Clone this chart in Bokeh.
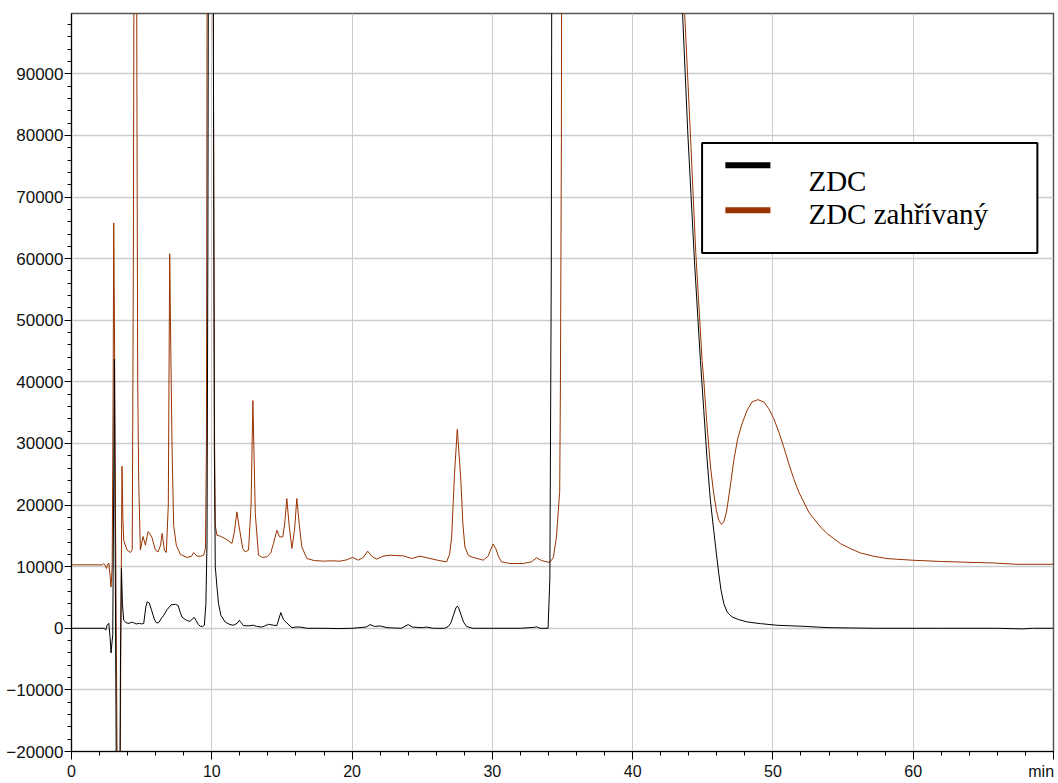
from bokeh.plotting import figure
from bokeh.models import Range1d, SingleIntervalTicker, BasicTickFormatter
from bokeh.core.properties import value
from bokeh.embed import file_html
from bokeh.resources import INLINE

# --- chromatogram traces (retention time in min, detector response) ---
zdc_t = [0.0, 2.35, 2.44, 2.54, 2.66, 2.75, 2.82, 2.94, 3.0, 3.06, 3.12, 3.18, 3.24, 3.42,
         3.49, 3.56, 3.63, 3.72, 3.9, 4.1, 4.3, 4.44, 4.6, 4.85, 5.0, 5.15, 5.3, 5.4, 5.55,
         5.7, 5.9, 6.05, 6.21, 6.4, 6.57, 6.8, 7.1, 7.4, 7.6, 7.75, 7.88, 8.2, 8.45, 8.6,
         8.75, 8.9, 9.05, 9.18, 9.35, 9.47, 9.58, 9.66, 9.72, 9.8, 10.05, 10.12, 10.18,
         10.25, 10.37, 10.48, 10.65, 10.96, 11.3, 11.55, 11.8, 11.96, 12.1, 12.26, 12.6,
         12.97, 13.2, 13.57, 13.8, 14.04, 14.4, 14.64, 14.78, 14.92, 15.11, 15.35, 15.71,
         16.0, 16.3, 16.8, 18.0, 19.0, 20.0, 21.0, 21.28, 21.6, 22.0, 22.5, 23.5, 24.0,
         24.3, 25.0, 25.3, 25.8, 26.6, 26.86, 27.05, 27.25, 27.4, 27.5, 27.6, 27.75, 27.95,
         28.16, 28.6, 30.0, 32.0, 33.0, 33.15, 33.4, 33.97, 34.1, 34.2, 34.3, 39.0, 43.2,
         43.56, 43.94, 44.41, 44.83, 45.07, 45.31, 45.54, 45.78, 45.97, 46.14, 46.3, 46.5,
         46.73, 47.09, 47.56, 48.16, 49.11, 50.3, 52.2, 53.86, 57.19, 62.0, 66.0, 67.8,
         68.5, 70.0]
zdc_y = [0, 0, -300, 500, 800, -1500, -4000, -1000, 20000, 43700, 10000, -18000, -40000,
         -40000, -5000, 9700, 4000, 1300, 900, 800, 1000, 900, 700, 800, 700, 800, 3500,
         4300, 4100, 3000, 1500, 900, 900, 1600, 2100, 3000, 3800, 3900, 3700, 2600, 1800,
         1300, 1100, 1500, 1750, 1200, 600, 330, 300, 500, 4000, 14000, 60000, 160000,
         160000, 90000, 30000, 10000, 6700, 4000, 2100, 1000, 600, 500, 800, 1300, 900,
         440, 400, 500, 300, 200, 400, 650, 500, 440, 1500, 2550, 1400, 860, 100, 200, 200,
         0, 0, -50, 0, 200, 600, 300, 380, 100, 0, 600, 200, 100, 200, 0, 0, 300, 900, 2300,
         3300, 3600, 3300, 2300, 1000, 300, 0, 0, 0, 150, 250, 0, 0, 8000, 58000, 200000,
         400000, 170000, 99700, 80000, 59500, 43500, 35400, 27300, 20800, 15900, 12100,
         8900, 6200, 4000, 2650, 1840, 1410, 1030, 760, 490, 320, 110, 0, 0, 0, -100, 0, 0]

heated_t = [0.0, 2.2, 2.3, 2.4, 2.49, 2.58, 2.66, 2.75, 2.82, 2.9, 2.97, 3.01, 3.06, 3.13,
            3.22, 3.3, 3.44, 3.52, 3.6, 3.66, 3.72, 3.96, 4.2, 4.33, 4.41, 4.5, 4.6, 4.66,
            4.72, 4.79, 4.91, 5.1, 5.27, 5.46, 5.6, 5.74, 5.98, 6.17, 6.35, 6.46, 6.62,
            6.76, 6.9, 7.0, 7.08, 7.17, 7.28, 7.47, 7.76, 8.23, 8.55, 8.71, 8.95, 9.2, 9.42,
            9.55, 9.62, 9.7, 10.05, 10.14, 10.2, 10.25, 10.37, 10.6, 11.0, 11.44, 11.6,
            11.79, 11.95, 12.2, 12.38, 12.62, 12.8, 12.93, 13.1, 13.33, 13.6, 13.93, 14.2,
            14.4, 14.64, 14.83, 15.06, 15.2, 15.35, 15.5, 15.71, 15.9, 16.06, 16.25, 16.42,
            16.78, 17.3, 17.96, 18.5, 19.15, 19.6, 20.02, 20.45, 20.8, 21.11, 21.4, 21.76,
            22.2, 22.7, 23.2, 23.65, 24.25, 24.84, 25.55, 26.2, 26.74, 26.95, 27.1, 27.3,
            27.5, 27.74, 27.9, 28.04, 28.3, 28.63, 29.35, 29.7, 29.9, 30.06, 30.25, 30.45,
            30.65, 31.25, 32.19, 32.8, 33.15, 33.5, 34.09, 34.35, 34.57, 34.8, 34.85, 34.92,
            35.0, 39.5, 43.3, 43.71, 44.06, 44.5, 44.95, 45.07, 45.31, 45.55, 45.78, 45.97,
            46.14, 46.33, 46.5, 46.69, 46.85, 47.02, 47.21, 47.49, 47.8, 48.16, 48.51, 48.92,
            49.35, 49.7, 50.06, 50.42, 50.77, 51.13, 51.48, 51.84, 52.2, 52.55, 52.91, 53.39,
            53.86, 54.34, 54.81, 55.52, 56.24, 57.19, 58.14, 60.04, 62.18, 65.74, 67.4, 70.0]
heated_y = [10300, 10300, 10500, 10200, 9700, 10400, 10600, 8500, 6700, 10000, 40000, 65800,
            50000, 20000, -10000, -40000, -40000, 0, 26300, 18000, 14300, 12700, 12300, 12800,
            60000, 160000, 160000, 90000, 40000, 24000, 12700, 14900, 13500, 15700, 15300,
            14700, 12700, 12400, 13500, 15400, 12700, 12300, 20000, 60800, 45000, 29000,
            16700, 13500, 12000, 11500, 11700, 12300, 11700, 11700, 11900, 13000, 30000,
            160000, 160000, 70000, 30000, 16700, 15100, 14960, 14500, 13770, 15500, 18900,
            16500, 13000, 12400, 12700, 20000, 36960, 18650, 11870, 11500, 11600, 12200,
            13800, 15900, 14850, 14850, 17000, 21060, 17000, 12960, 16000, 21060, 16500,
            13200, 11330, 11000, 10900, 10950, 10900, 11100, 11500, 11060, 11500, 12520,
            11700, 11220, 11700, 11870, 11800, 11760, 11330, 11710, 11330, 11000, 10780,
            12000, 14850, 25000, 32300, 24600, 17000, 13200, 11800, 11500, 11060, 11700,
            12900, 13660, 12900, 11600, 10780, 10520, 10520, 10800, 11440, 11000, 10680,
            11500, 14850, 22200, 38960, 78600, 200000, 400000, 170000, 99700, 83000, 61000,
            43500, 40260, 32680, 26190, 21860, 19160, 17530, 16880, 17260, 18880, 21320,
            24030, 27270, 30790, 33230, 35390, 36740, 37120, 36740, 35660, 34040, 31870,
            29440, 26730, 24300, 22130, 20510, 18880, 17810, 16450, 15370, 14560, 13750,
            12940, 12230, 11690, 11310, 11040, 10830, 10600, 10390, 10390]

series_names = ["ZDC", "ZDC zahřívaný"]
series_colors = ["#000000", "#993300"]

p = figure(width=1058, height=783, x_range=Range1d(0, 70), y_range=Range1d(-20000, 99800),
           output_backend="svg", toolbar_location=None,
           min_border_left=71, min_border_right=5, min_border_top=13, min_border_bottom=32)
p.background_fill_color = "white"
p.border_fill_color = "white"
p.outline_line_color = "#555555"
p.outline_line_width = 1.5

# axes; the last time tick carries the unit
p.xaxis.ticker = SingleIntervalTicker(interval=10, num_minor_ticks=5)
p.yaxis.ticker = SingleIntervalTicker(interval=10000, num_minor_ticks=5)
p.yaxis.formatter = BasicTickFormatter(use_scientific=False)
p.xaxis.major_label_overrides = {70: "min\u00a0"}
for ax in (p.xaxis[0], p.yaxis[0]):
    ax.axis_line_color = "black"
    ax.axis_line_width = 1
    ax.major_tick_line_color = "black"
    ax.minor_tick_line_color = "black"
    ax.major_tick_in = 0
    ax.minor_tick_in = 0
    ax.major_label_text_font = "Liberation Sans"
    ax.major_label_text_color = "#111111"
p.xaxis.major_tick_out = 8
p.xaxis.minor_tick_out = 4
p.xaxis.major_label_standoff = 3
p.xaxis.major_label_text_font_size = "16px"
p.yaxis.major_tick_out = 7
p.yaxis.minor_tick_out = 4
p.yaxis.major_label_standoff = 1
p.yaxis.major_label_text_font_size = "17px"

p.xgrid.grid_line_color = "#cccccc"
p.ygrid.grid_line_color = "#cccccc"
p.xgrid.grid_line_width = 1
p.ygrid.grid_line_width = 1.5

# traces
p.line(heated_t, heated_y, line_color=series_colors[1], line_width=1)
p.line(zdc_t, zdc_y, line_color=series_colors[0], line_width=1)

# legend panel
p.quad(left=[44.95], right=[68.85], top=[78780], bottom=[60930],
       fill_color="white", line_color="black", line_width=2)
p.segment(x0=[46.61, 46.61], y0=[75180, 67880], x1=[49.82, 49.82], y1=[75180, 67880],
          line_color=series_colors, line_width=6)
p.text(x=[52.53, 52.53], y=[72650, 67290], text=series_names,
       text_font=value("Liberation Serif"), text_font_size=value("29px"),
       text_baseline="alphabetic", text_align="left", text_color="black")

open("out.html", "w").write(file_html(p, INLINE))
